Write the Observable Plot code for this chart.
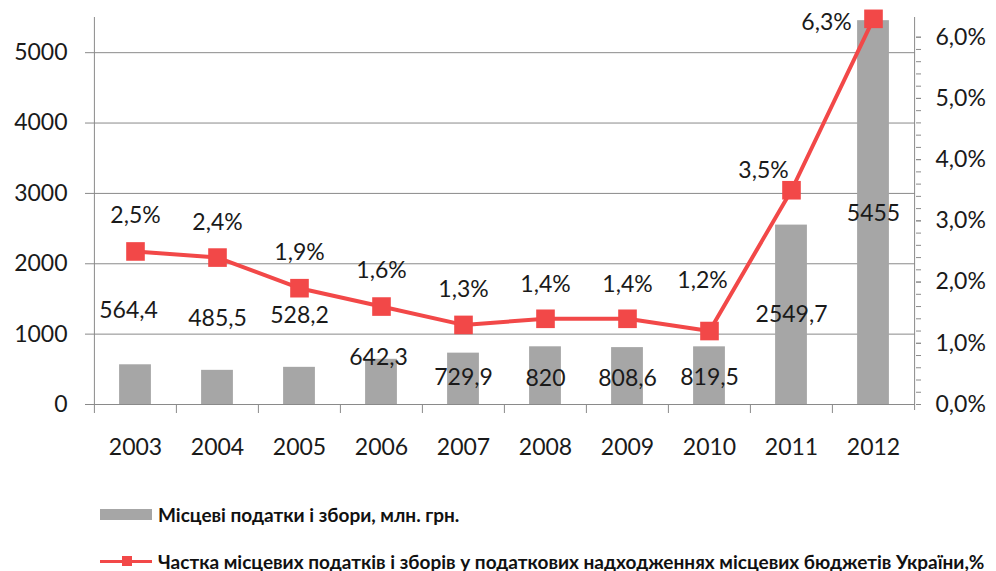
<!DOCTYPE html>
<html>
<head>
<meta charset="utf-8">
<script src="https://cdn.jsdelivr.net/npm/d3@7"></script>
<script src="https://cdn.jsdelivr.net/npm/@observablehq/plot@0.6"></script>
<style>
  html, body { margin: 0; padding: 0; background: #fff; }
  #wrap { position: relative; width: 996px; height: 571px; font-family: Lato, "DejaVu Sans", sans-serif; }
  .leg { position: absolute; left: 100px; display: flex; align-items: center; font-weight: bold; font-size: 19px; color: #111; white-space: nowrap; }
  .sw { width: 52px; margin-right: 6px; position: relative; }
</style>
</head>
<body>
<div id="wrap">
  <div id="chart"></div>
  <div class="leg" id="leg1" style="top:503px;"><span class="sw" style="height:11px;background:#a6a6a6;"></span><span id="t1"></span></div>
  <div class="leg" id="leg2" style="top:549px;"><span class="sw" style="height:24px;">
    <span style="position:absolute;left:0;top:10.5px;width:52px;height:3px;background:#f24848;"></span>
    <span style="position:absolute;left:22px;top:7px;width:10px;height:10px;background:#f24848;"></span>
  </span><span id="t2"></span></div>
</div>
<script>
// ---- data ----
const years = ["2003","2004","2005","2006","2007","2008","2009","2010","2011","2012"];
const taxes = [564.4, 485.5, 528.2, 642.3, 729.9, 820, 808.6, 819.5, 2549.7, 5455];
const shares = [2.5, 2.4, 1.9, 1.6, 1.3, 1.4, 1.4, 1.2, 3.5, 6.3];
const leftTicks = [0, 1000, 2000, 3000, 4000, 5000];
const rightTicks = [0, 1, 2, 3, 4, 5, 6];
const rightMinorTicks = d3.range(0, 31).map(i => i / 5);
const seriesNames = ["Місцеві податки і збори, млн. грн.",
  "Частка місцевих податків і зборів у податкових надходженнях місцевих бюджетів України,%"];

// ---- label placement (pixel offsets, styling only) ----
const barLabelOffsets = [[-7,-54],[0,-52],[0,-52],[-3,-2],[0,24],[0,32],[0,31],[0,31],[0,90],[0,193]];
const pctLabelOffsets = [[0,-36],[0,-35],[0,-36],[0,-36],[0,-35],[0,-34],[0,-34],[-7,-50],[-28,-20],[-47,4]];

// ---- layout ----
const W = 996, H = 460, ML = 93, MR = 81, MT = 17, MB = 56;
const step = (W - ML - MR) / years.length;
const k = 870;               // left-axis units per 1 % on the secondary axis
const yMax = 5500;
const gridC = "#8a8a8a", barC = "#a6a6a6", lineC = "#f24848", txtC = "#1a1a1a";

const rows = years.map((y, i) => ({year: y, value: taxes[i], pct: shares[i]}));
const fmtNum = v => String(v).replace(".", ",");
const fmtPct = v => v.toFixed(1).replace(".", ",") + "%";

document.getElementById("t1").textContent = seriesNames[0];
document.getElementById("t2").textContent = seriesNames[1];

const marks = [
  Plot.ruleY(leftTicks.slice(1), {stroke: gridC}),
  Plot.barY(rows, {x: "year", y: "value", fill: barC, insetLeft: (step - 32) / 2, insetRight: (step - 32) / 2}),
  Plot.ruleY([0], {stroke: gridC}),
  // category boundary ticks below baseline
  Plot.ruleX(years.slice(1), {dx: -step / 2, stroke: gridC, insetTop: H - MT - MB, insetBottom: -9}),
  // left and right axis lines
  Plot.ruleX([years[0]], {dx: -step / 2, stroke: gridC, insetBottom: -9}),
  Plot.ruleX([years[years.length - 1]], {dx: step / 2, stroke: gridC, insetBottom: -6}),
  Plot.axisY(leftTicks, {anchor: "left", tickSize: 8, tickPadding: 18, stroke: gridC, fill: txtC, label: null, tickFormat: d => String(d)}),
  Plot.axisY(rightMinorTicks.map(v => v * k), {anchor: "right", tickSize: 5, stroke: gridC, label: null, tickFormat: () => ""}),
  Plot.axisY(rightTicks.map(v => v * k), {anchor: "right", tickSize: 5, tickPadding: 15, stroke: gridC, fill: txtC, label: null, tickFormat: v => fmtPct(v / k)}),
  Plot.axisX(years, {anchor: "bottom", tickSize: 0, tickPadding: 34, fill: txtC, label: null}),
  Plot.line(rows, {x: "year", y: d => d.pct * k, stroke: lineC, strokeWidth: 4}),
  Plot.dot(rows, {x: "year", y: d => d.pct * k, symbol: "square", r: 10.5, fill: lineC, stroke: "none"}),
  ...barLabelOffsets.map((o, i) => Plot.text([rows[i]], {x: "year", y: "value", text: d => fmtNum(d.value), dx: o[0], dy: o[1], fill: txtC})),
  ...pctLabelOffsets.map((o, i) => Plot.text([rows[i]], {x: "year", y: d => d.pct * k, text: d => fmtPct(d.pct), dx: o[0], dy: o[1], fill: txtC}))
];

const chart = Plot.plot({
  width: W, height: H,
  marginLeft: ML, marginRight: MR, marginTop: MT, marginBottom: MB,
  style: {fontFamily: "Lato, 'DejaVu Sans', sans-serif", fontSize: "23px", background: "#fff", overflow: "visible"},
  x: {domain: years, padding: 0, axis: null},
  y: {domain: [0, yMax], axis: null},
  marks
});
document.getElementById("chart").appendChild(chart);
</script>
</body>
</html>
